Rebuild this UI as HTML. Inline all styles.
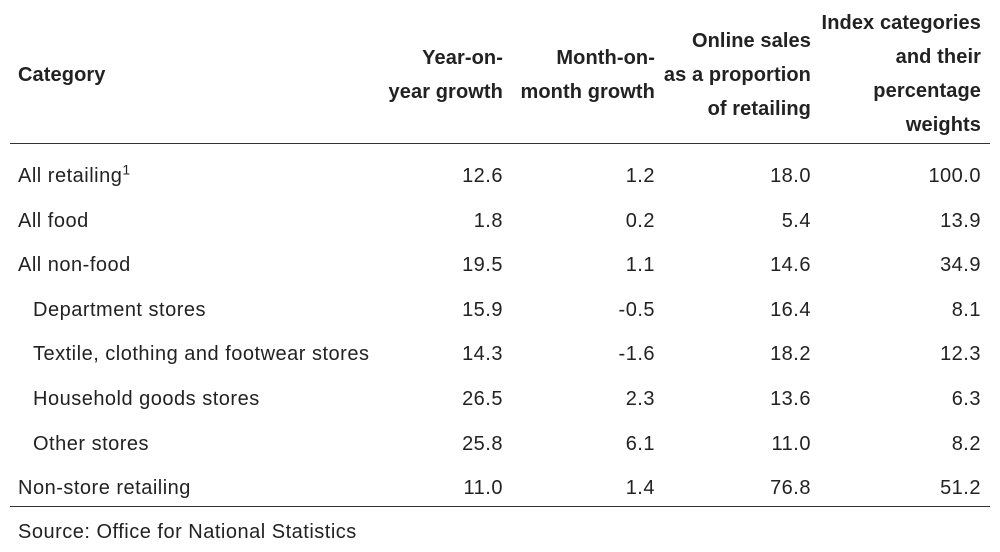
<!DOCTYPE html>
<html><head><meta charset="utf-8"><style>
body{margin:0;width:1000px;height:552px;background:#fff;font-family:"Liberation Sans",sans-serif;color:#222;position:relative;overflow:hidden}
.t{position:absolute;white-space:nowrap;font-size:20px;line-height:34px;letter-spacing:0.5px}
.h{font-weight:bold;text-align:right;letter-spacing:0.1px}
.r{text-align:right}
.line{position:absolute;left:10px;width:980px;height:1px;background:#333}
</style></head><body>
<div>
<div class="t h" style="left:18px;top:58px;text-align:left">Category</div>
<div class="t h" style="right:497px;top:41px">Year-on-<br>year growth</div>
<div class="t h" style="right:345px;top:41px">Month-on-<br>month growth</div>
<div class="t h" style="right:189px;top:24px">Online sales<br>as a proportion<br>of retailing</div>
<div class="t h" style="right:19px;top:6px">Index categories<br>and their<br>percentage<br>weights</div>
<div class="line" style="top:143px"></div>
<div id="rows"></div>
<div class="line" style="top:506px"></div>
<div class="t" style="left:18px;top:515px">Source: Office for National Statistics</div>
</div>
<script>
const categories=["All retailing","All food","All non-food","Department stores","Textile, clothing and footwear stores","Household goods stores","Other stores","Non-store retailing"];
const indent=[0,0,0,1,1,1,1,0];
const yoy=["12.6","1.8","19.5","15.9","14.3","26.5","25.8","11.0"];
const mom=["1.2","0.2","1.1","-0.5","-1.6","2.3","6.1","1.4"];
const online=["18.0","5.4","14.6","16.4","18.2","13.6","11.0","76.8"];
const weights=["100.0","13.9","34.9","8.1","12.3","6.3","8.2","51.2"];
const rows=document.getElementById('rows');
const rights=[497,345,189,19];
categories.forEach((c,i)=>{
  const top=159+i*44.6;
  const d=document.createElement('div');
  d.className='t';
  
  
  d.style.left=(indent[i]?33:18)+'px';d.style.top=top+'px';
  d.innerHTML=c+(i===0?'<sup style="font-size:14px;line-height:0">1</sup>':'');
  rows.appendChild(d);
  [yoy[i],mom[i],online[i],weights[i]].forEach((v,j)=>{
    const e=document.createElement('div');
    e.className='t r';
    
    
    e.style.right=rights[j]+'px';e.style.top=top+'px';
    e.textContent=v;
    rows.appendChild(e);
  });
});
</script>
</body></html>
